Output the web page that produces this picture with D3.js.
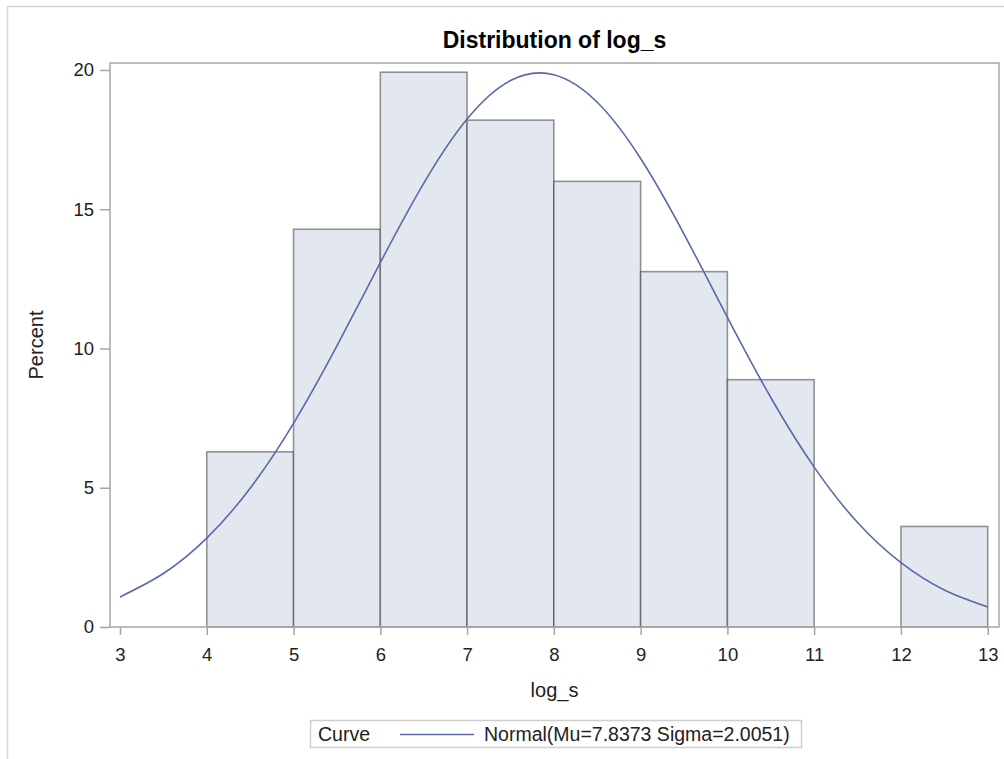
<!DOCTYPE html>
<html>
<head>
<meta charset="utf-8">
<script src="https://cdn.jsdelivr.net/npm/d3@7"></script>
<style>
  html, body { margin: 0; padding: 0; background: #fff; }
  svg { display: block; font-family: "Liberation Sans", Arial, sans-serif; }
</style>
</head>
<body>
<svg id="chart" width="1004" height="759"></svg>
<script>
// ---- data ----
const title = "Distribution of log_s";
const xLabel = "log_s";
const yLabel = "Percent";
const binStarts = [4, 5, 6, 7, 8, 9, 10, 11, 12];
const binWidth = 1;
const binPercents = [6.29, 14.28, 19.92, 18.20, 16.00, 12.76, 8.88, 0, 3.61];
const xTicks = [3, 4, 5, 6, 7, 8, 9, 10, 11, 12, 13];
const yTicks = [0, 5, 10, 15, 20];
// normal curve (percent per unit bin)
const curveX = [3, 3.5, 4, 4.5, 5, 5.5, 6, 6.5, 7, 7.5, 8, 8.5, 9, 9.5, 10, 10.5, 11, 11.5, 12, 12.5, 13];
const curveY = [1.08, 1.92, 3.19, 4.98, 7.31, 10.09, 13.08, 15.93, 18.24, 19.62, 19.83, 18.84, 16.82, 14.11, 11.12, 8.24, 5.74, 3.75, 2.31, 1.33, 0.72];
const legendTitle = "Curve";
const legendLabel = "Normal(Mu=7.8373 Sigma=2.0051)";

// ---- layout ----
const svg = d3.select("#chart");
const plot = { left: 110, right: 999, top: 63, bottom: 627 };
const x = d3.scaleLinear().domain([2.885, 13.13]).range([plot.left, plot.right]);
const y = d3.scaleLinear().domain([0, 20.25]).range([plot.bottom, plot.top]);

const axisColor = "#a4a7aa";
const textColor = "#222";

// outer border
svg.append("rect")
  .attr("x", 7.5).attr("y", 6.5).attr("width", 1020).attr("height", 780)
  .attr("fill", "none").attr("stroke", "#d6d6d6").attr("stroke-width", 1.5);

// title
svg.append("text")
  .attr("x", (plot.left + plot.right) / 2).attr("y", 48)
  .attr("text-anchor", "middle")
  .attr("font-size", 23).attr("font-weight", "bold").attr("fill", "#000")
  .text(title);

// bars
const bins = binStarts.map((s, i) => ({ x0: s, x1: s + binWidth, p: binPercents[i] }))
  .filter(d => d.p > 0);
svg.append("g").selectAll("rect").data(bins).join("rect")
  .attr("x", d => x(d.x0)).attr("y", d => y(d.p))
  .attr("width", d => x(d.x1) - x(d.x0)).attr("height", d => y(0) - y(d.p))
  .attr("fill", "#e2e7f0")
  .attr("stroke", "rgba(0,0,0,0.40)").attr("stroke-width", 1.6);

// curve
const pts = curveX.map((v, i) => [v, curveY[i]]);
svg.append("path")
  .datum(pts)
  .attr("fill", "none").attr("stroke", "#5a6aa8").attr("stroke-width", 1.6)
  .attr("d", d3.line().x(d => x(d[0])).y(d => y(d[1])).curve(d3.curveNatural));

// frame
svg.append("rect")
  .attr("x", plot.left).attr("y", plot.top)
  .attr("width", plot.right - plot.left).attr("height", plot.bottom - plot.top)
  .attr("fill", "none").attr("stroke", axisColor).attr("stroke-width", 1.5);

// y axis
const yAxis = svg.append("g").attr("transform", `translate(${plot.left},0)`)
  .call(d3.axisLeft(y).tickValues(yTicks).tickSize(10).tickPadding(6).tickFormat(d3.format("d")));
yAxis.select(".domain").remove();
yAxis.selectAll(".tick line").attr("stroke", axisColor).attr("stroke-width", 1.5);
yAxis.selectAll(".tick text").attr("font-size", 18.5).attr("fill", textColor)
  .attr("font-family", "Liberation Sans, Arial, sans-serif");

// x axis
const xAxis = svg.append("g").attr("transform", `translate(0,${plot.bottom})`)
  .call(d3.axisBottom(x).tickValues(xTicks).tickSize(8).tickPadding(13).tickFormat(d3.format("d")));
xAxis.select(".domain").remove();
xAxis.selectAll(".tick line").attr("stroke", axisColor).attr("stroke-width", 1.5);
xAxis.selectAll(".tick text").attr("font-size", 18.5).attr("fill", textColor)
  .attr("font-family", "Liberation Sans, Arial, sans-serif");

// axis labels
svg.append("text")
  .attr("x", (plot.left + plot.right) / 2).attr("y", 697)
  .attr("text-anchor", "middle").attr("font-size", 20).attr("fill", textColor)
  .text(xLabel);
svg.append("text")
  .attr("transform", `translate(43,${(plot.top + plot.bottom) / 2}) rotate(-90)`)
  .attr("text-anchor", "middle").attr("font-size", 20).attr("fill", textColor)
  .text(yLabel);

// legend
const lg = svg.append("g");
lg.append("rect")
  .attr("x", 310.5).attr("y", 720.5).attr("width", 491).attr("height", 27)
  .attr("fill", "#fff").attr("stroke", "#cfcfcf").attr("stroke-width", 1.5);
lg.append("text").attr("x", 318).attr("y", 741)
  .attr("font-size", 19.5).attr("fill", textColor).text(legendTitle);
lg.append("line").attr("x1", 400).attr("x2", 474).attr("y1", 734.5).attr("y2", 734.5)
  .attr("stroke", "#5a6aa8").attr("stroke-width", 1.6);
lg.append("text").attr("x", 484).attr("y", 741)
  .attr("font-size", 19.5).attr("fill", textColor).text(legendLabel);
</script>
</body>
</html>
